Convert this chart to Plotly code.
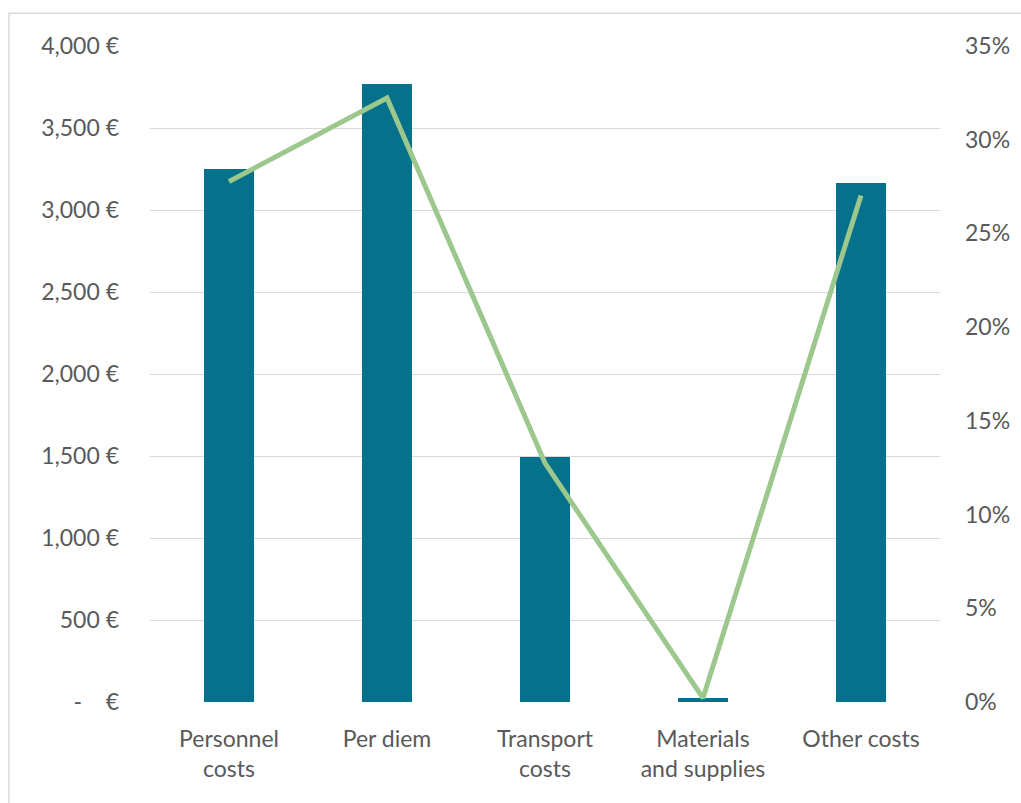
import plotly.graph_objects as go

# Cost categories and amounts (EUR) with each category's share of the total
categories = ["Personnel<br>costs", "Per diem", "Transport<br>costs", "Materials<br>and supplies", "Other costs"]
amounts = [3249, 3771, 1492, 25, 3162]
shares = [0.2777, 0.3223, 0.1275, 0.0021, 0.2703]

eur_ticks = [0, 500, 1000, 1500, 2000, 2500, 3000, 3500, 4000]
eur_labels = ["-\u00a0\u00a0\u00a0 €", "500 €", "1,000 €", "1,500 €", "2,000 €",
              "2,500 €", "3,000 €", "3,500 €", "4,000 €"]
pct_ticks = [0, 0.05, 0.10, 0.15, 0.20, 0.25, 0.30, 0.35]
pct_labels = ["0%", "5%", "10%", "15%", "20%", "25%", "30%", "35%"]

FONT = "Lato, Calibri, sans-serif"
TXT = "#595959"
GRID = "#D9D9D9"

fig = go.Figure()
fig.add_trace(go.Bar(
    x=categories, y=amounts, marker=dict(color="#05718B", line=dict(width=0)),
    width=0.316, yaxis="y", hoverinfo="x+y",
))
fig.add_trace(go.Scatter(
    x=categories, y=shares, mode="lines", yaxis="y2",
    line=dict(color="#9DC88D", width=5),
))

L, R, T, B = 150, 81, 45.7, 100.7
W, H = 1021, 803
pw, ph = W - L - R, H - T - B

fig.update_layout(
    width=W, height=H,
    margin=dict(l=L, r=R, t=T, b=B, pad=0),
    paper_bgcolor="white", plot_bgcolor="white",
    showlegend=False, bargap=0,
    font=dict(family=FONT, size=23, color=TXT),
    xaxis=dict(showgrid=False, zeroline=False, showline=False, ticks="",
               tickfont=dict(size=23, color=TXT), ticklabelstandoff=21),
    yaxis=dict(range=[0, 4000], tickvals=eur_ticks, ticktext=eur_labels,
               showgrid=True, gridcolor=GRID, gridwidth=1, zeroline=False,
               showline=False, ticks="", ticklabelstandoff=30,
               tickfont=dict(size=23, color=TXT)),
    yaxis2=dict(range=[0, 0.35], tickvals=pct_ticks, ticktext=pct_labels,
                overlaying="y", side="right", showgrid=False, zeroline=False,
                showline=False, ticks="", ticklabelstandoff=24,
                tickfont=dict(size=23, color=TXT)),
)

# Chart-area border (left and top edges)
x0 = (9 - L) / pw
x1 = (W + 10 - L) / pw
ytop = (H - B - 13) / ph
ybot = (H - B - (H + 10)) / ph
fig.add_shape(type="path", xref="paper", yref="paper",
              path=f"M {x0},{ybot} L {x0},{ytop} L {x1},{ytop}",
              line=dict(color="#D9D9D9", width=1.5), layer="below")

fig.write_html("out.html")
